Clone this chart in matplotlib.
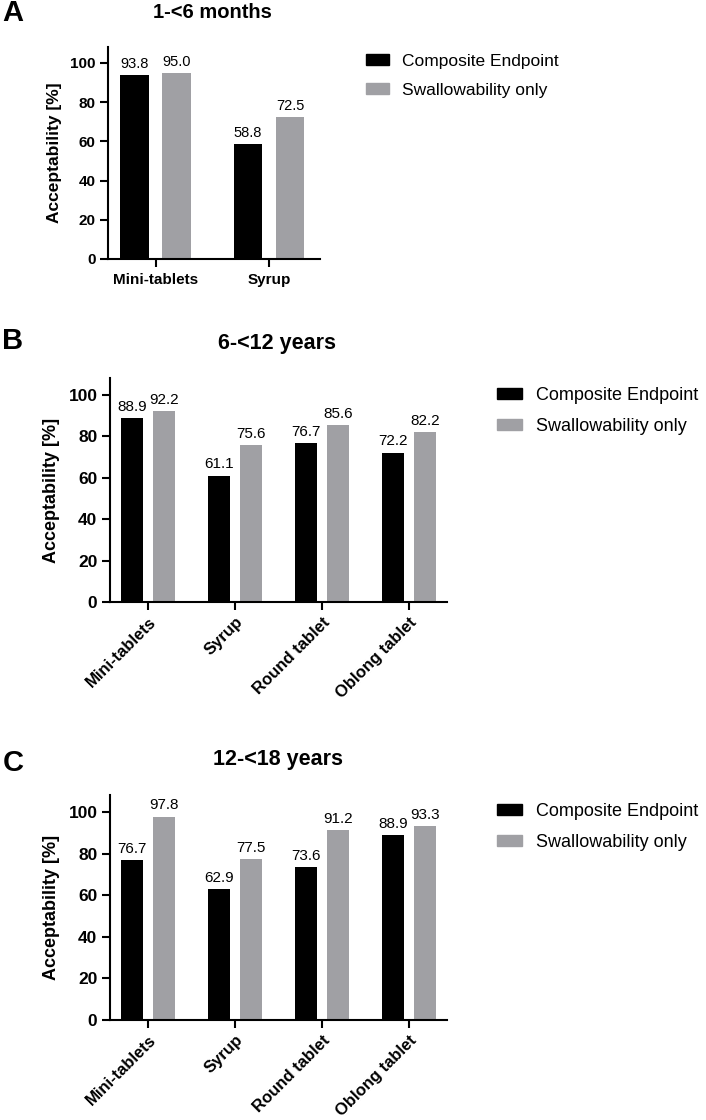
import matplotlib
matplotlib.use("Agg")
import matplotlib.pyplot as plt
from matplotlib.patches import Patch
import numpy as np

plt.rcParams['font.family'] = ['Liberation Sans', 'DejaVu Sans']

# ---- data ----
series_names = ['Composite Endpoint', 'Swallowability only']
cats_A = ['Mini-tablets', 'Syrup']
comp_A = [93.8, 58.8]
swal_A = [95.0, 72.5]

cats_B = ['Mini-tablets', 'Syrup', 'Round tablet', 'Oblong tablet']
comp_B = [88.9, 61.1, 76.7, 72.2]
swal_B = [92.2, 75.6, 85.6, 82.2]

cats_C = ['Mini-tablets', 'Syrup', 'Round tablet', 'Oblong tablet']
comp_C = [76.7, 62.9, 73.6, 88.9]
swal_C = [97.8, 77.5, 91.2, 93.3]

titles = ['1-<6 months', '6-<12 years', '12-<18 years']
letters = ['A', 'B', 'C']
yticks = [0, 20, 40, 60, 80, 100]

# ---- style ----
W, H = 706, 1120
C_BLACK = '#000000'
C_GRAY = '#a0a0a4'
fig = plt.figure(figsize=(W / 100, H / 100), dpi=100)


def px_axes(l, t, r, b):
    return fig.add_axes([l / W, 1 - b / H, (r - l) / W, (b - t) / H])


def draw(ax, cats, comp, swal, xlim, rotate, fs):
    x = np.arange(len(cats))
    w = 0.25
    off = 0.185
    b1 = ax.bar(x - off, comp, w, color=C_BLACK)
    b2 = ax.bar(x + off, swal, w, color=C_GRAY)
    for bars, vals in ((b1, comp), (b2, swal)):
        for rect, v in zip(bars, vals):
            ax.annotate(f'{v:.1f}', (rect.get_x() + rect.get_width() / 2, v),
                        xytext=(0, 3), textcoords='offset points',
                        ha='center', va='bottom', fontsize=fs['val'])
    ax.set_xlim(*xlim)
    ax.set_ylim(0, 108)
    ax.set_yticks(yticks)
    ax.set_xticks(x)
    if rotate:
        ax.set_xticklabels(cats, rotation=45, ha='right', rotation_mode='anchor',
                           fontsize=fs['xt'], fontweight='bold')
    else:
        ax.set_xticklabels(cats, fontsize=fs['xt'], fontweight='bold')
    for lab in ax.get_yticklabels():
        lab.set_fontweight('bold')
        lab.set_fontsize(fs['yt'])
    ax.set_ylabel('Acceptability [%]', fontsize=fs['yl'], fontweight='bold', labelpad=6)
    for s in ('top', 'right'):
        ax.spines[s].set_visible(False)
    for s in ('left', 'bottom'):
        ax.spines[s].set_linewidth(1.5)
    ax.tick_params(width=1.5, length=6, pad=3)
    ax.tick_params(axis='x', pad=fs['xpad'])


fsA = dict(val=10.5, xt=11, yt=11, yl=12.5, xpad=4)
fsB = dict(val=11, xt=12, yt=12.5, yl=13, xpad=3)

axA = px_axes(108, 47.3, 320, 259)
draw(axA, cats_A, comp_A, swal_A, (-0.42, 1.45), False, fsA)
axB = px_axes(110, 378.4, 447, 602)
draw(axB, cats_B, comp_B, swal_B, (-0.437, 3.437), True, fsB)
axC = px_axes(110, 795.4, 447, 1020)
draw(axC, cats_C, comp_C, swal_C, (-0.437, 3.437), True, fsB)

# titles and panel letters
title_pos = [(212, 13, 14.5), (277, 343, 15.5), (278, 759, 15.5)]
letter_pos = [(13, 13), (13, 341), (13, 763)]
for t, (tx, ty, tf) in zip(titles, title_pos):
    fig.text(tx / W, 1 - ty / H, t, ha='center', va='center', fontsize=tf, fontweight='bold')
for L, (lx, ly) in zip(letters, letter_pos):
    fig.text(lx / W, 1 - ly / H, L, ha='center', va='center', fontsize=21, fontweight='bold')

# legends
handles = [Patch(color=C_BLACK), Patch(color=C_GRAY)]
leg_specs = [(366, 54, 12.5, 1.32, 0.75), (497, 387, 13, 1.39, 0.78), (497, 803, 13, 1.39, 0.78)]
for lx, ly, lf, hl, tp in leg_specs:
    fig.legend(handles, series_names, loc='upper left',
               bbox_to_anchor=(lx / W, 1 - ly / H), bbox_transform=fig.transFigure,
               frameon=False, borderpad=0, borderaxespad=0, fontsize=lf,
               handlelength=hl, handleheight=0.6, handletextpad=tp,
               labelspacing=0.78)

fig.savefig('out.png', dpi=100, facecolor='white')
